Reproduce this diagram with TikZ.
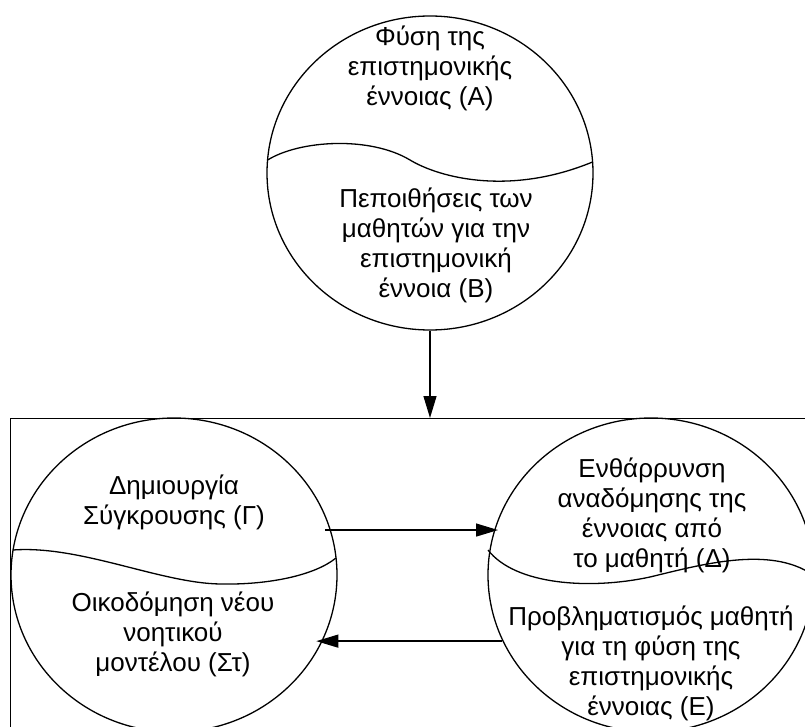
\documentclass[tikz,border=0pt]{standalone}
\usepackage{fontspec}
\setmainfont{Liberation Sans}
\usetikzlibrary{arrows.meta,shapes.geometric}
\tikzset{
  blob/.style={draw, ellipse, minimum width=326pt, minimum height=314pt, inner sep=0pt, line width=1.3pt},
  wave/.style={line width=1.3pt},
  lbl/.style={align=center, inner sep=0pt, font=\fontsize{26}{30}\selectfont},
  arr/.style={line width=1.3pt, -{Triangle[length=22pt, width=13pt]}},
  frame/.style={draw, line width=1.3pt, anchor=north west, inner sep=0pt, minimum width=900pt, minimum height=400pt}
}
\begin{document}
\begin{tikzpicture}[x=1pt, y=-1pt]
\useasboundingbox (0,0) rectangle (805,727);
\clip (0,0) rectangle (805,727);
\fill[white] (0,0) rectangle (805,727);
% frame
\node[frame] (box) at (10,418) {};
% circles
\node[blob] (top) at (430,173) {};
\node[blob] (left) at (174,575) {};
\node[blob] (right) at (651,575) {};
% waves
\draw[wave] (267.6,160) .. controls (300,140) and (370,136) .. (410,160)
  .. controls (440,178) and (510,196) .. (592.5,162);
\draw[wave] (13,550) .. controls (80,545) and (160,583) .. (220,584)
  .. controls (270,585) and (315,575) .. (336,558);
\draw[wave] (488,550) .. controls (515,585) and (590,590) .. (650,577)
  .. controls (700,565) and (770,545) .. (813,575);
% texts
\node[lbl] (tA) at (430,68) {Φύση της\\επιστημονικής\\έννοιας (Α)};
\node[lbl] (tB) at (436,245) {Πεποιθήσεις των\\μαθητών για την\\επιστημονική\\έννοια (Β)};
\node[lbl] (tG) at (174,502) {Δημιουργία\\Σύγκρουσης (Γ)};
\node[lbl] (tS) at (173,634) {Οικοδόμηση νέου\\νοητικού\\μοντέλου (Στ)};
\node[lbl] (tD) at (652,515) {Ενθάρρυνση\\αναδόμησης της\\έννοιας από\\το μαθητή (Δ)};
\node[lbl] (tE) at (651,663) {Προβληματισμός μαθητή\\για τη φύση της\\επιστημονικής\\έννοιας (Ε)};
% arrows
\draw[arr] (top.south) -- (box.north -| top.south);
\draw[arr, shorten <=-6pt, shorten >=-3pt] (left.16) -- (left.16 -| right.163);
\draw[arr, shorten >=-5pt] (right.-156) -- (right.-156 -| left.-25);
\end{tikzpicture}
\end{document}
